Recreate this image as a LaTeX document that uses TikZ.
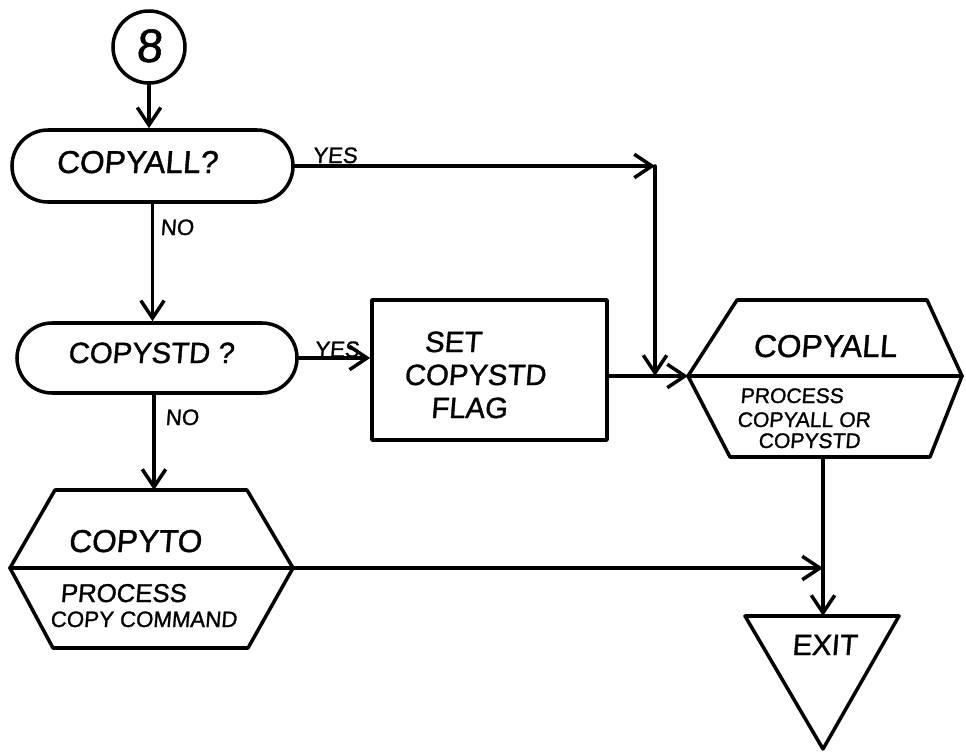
\documentclass[tikz,border=0pt]{standalone}
\usepackage{fontspec}
\setmainfont{Liberation Sans}[FakeSlant=0.08,FakeBold=1.2]
\usetikzlibrary{arrows.meta,shapes.misc}
\tikzset{
 ln/.style={line width=3pt, line join=round, line cap=round},
 arr/.style={ln, -{Straight Barb[length=15pt,width=20pt]}},
 term/.style={ln, draw, rounded rectangle, inner sep=0pt},
 procbox/.style={ln, draw, rectangle, inner sep=0pt},
 conn/.style={ln, draw, circle, inner sep=0pt, minimum size=2.16cm},
 txt/.style={inner sep=0pt, anchor=base},
 txtl/.style={inner sep=0pt, anchor=base west},
}
\newcommand{\fsz}[1]{\fontsize{#1}{#1}\selectfont}
\begin{document}
\begin{tikzpicture}[x=0.03cm,y=-0.03cm]
\useasboundingbox (0,0) rectangle (966,753);
% connector circle
\node[conn] (c8) at (149,47) {};
\node[txt, font=\fsz{40}] (c8t) at (149,62) {8};
% terminals
\node[term, minimum width=8.43cm, minimum height=2.16cm] (t1) at (152.5,166) {};
\node[txt, font=\fsz{27}] (t1t) at (137,173) {COPYALL?};
\node[term, minimum width=8.4cm, minimum height=2.1cm] (t2) at (157,358) {};
\node[txt, font=\fsz{25}] (t2t) at (151,363) {COPYSTD ?};
% process box
\node[procbox, minimum width=7.05cm, minimum height=4.2cm] (box) at (489.5,370) {};
\node[txt, font=\fsz{25}] (b1) at (453,352) {SET};
\node[txt, font=\fsz{25}] (b2) at (475,385) {COPYSTD};
\node[txt, font=\fsz{25}] (b3) at (469,418) {FLAG};
% hexagon 1
\coordinate (h1L) at (688,376);
\coordinate (h1TL) at (737,300);
\coordinate (h1TR) at (927,300);
\coordinate (h1R) at (962,376);
\coordinate (h1BR) at (930,457);
\coordinate (h1BL) at (730,457);
\coordinate (h1B) at (823,457);
\draw[ln] (h1L) -- (h1TL) -- (h1TR) -- (h1R) -- (h1BR) -- (h1BL) -- cycle;
\draw[ln] (h1L) -- (h1R);
\node[txt, font=\fsz{27}] (h1a) at (825,357) {COPYALL};
\node[txtl, font=\fsz{18}] (h1b) at (740,403) {PROCESS};
\node[txtl, font=\fsz{18}] (h1c) at (737,427) {COPYALL OR};
\node[txtl, font=\fsz{18}] (h1d) at (758,448) {COPYSTD};
% hexagon 2
\coordinate (h2L) at (10,568);
\coordinate (h2TL) at (55,490);
\coordinate (h2TR) at (247,490);
\coordinate (h2R) at (293,568);
\coordinate (h2BR) at (248,648);
\coordinate (h2BL) at (53,648);
\coordinate (h2T) at (154,490);
\draw[ln] (h2L) -- (h2TL) -- (h2TR) -- (h2R) -- (h2BR) -- (h2BL) -- cycle;
\draw[ln] (h2L) -- (h2R);
\node[txt, font=\fsz{27}] (h2a) at (135,552) {COPYTO};
\node[txtl, font=\fsz{22}] (h2b) at (60,602) {PROCESS};
\node[txtl, font=\fsz{19}] (h2c) at (50,627) {COPY COMMAND};
% exit triangle
\coordinate (xTL) at (745,616);
\coordinate (xTR) at (899,616);
\coordinate (xB) at (823,749);
\coordinate (xT) at (823,616);
\draw[ln] (xTL) -- (xTR) -- (xB) -- cycle;
\node[txt, font=\fsz{25}] (xt) at (824.5,655) {EXIT};
% connectors
\coordinate (jx) at (655,376);
\draw[arr] (c8.south) -- (c8.south |- t1.north);
\draw[arr] (t1.east) -- (t1.east -| jx) coordinate (j1);
\draw[arr] (j1) -- (jx);
\node[txt, font=\fsz{19}] (yes1) at (335,163) {YES};
\draw[arr] (t1.south) -- (t1.south |- t2.north);
\node[txt, font=\fsz{19}] (no1) at (177,235) {NO};
\draw[arr] (t2.east) -- (t2.east -| box.west);
\node[txt, font=\fsz{19}] (yes2) at (337,357) {YES};
\draw[arr] (box.east |- h1L) -- (h1L);
\draw[arr] (t2.south -| h2T) -- (h2T);
\node[txt, font=\fsz{19}] (no2) at (182,425) {NO};
\draw[arr] (h2R) -- (h2R -| h1B);
\draw[arr] (h1B) -- (xT);
\end{tikzpicture}
\end{document}
